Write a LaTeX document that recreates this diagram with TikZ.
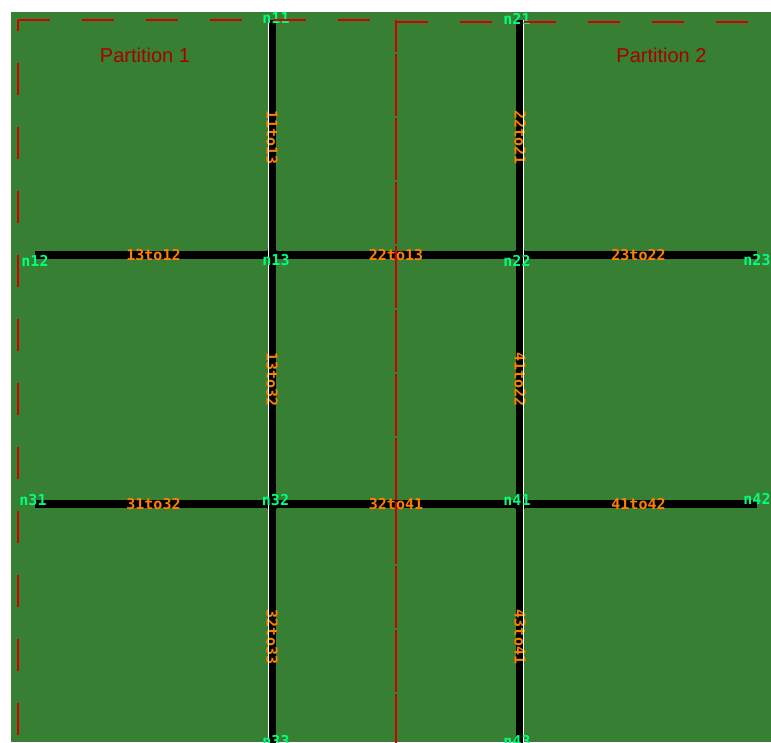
\documentclass[tikz,border=0pt]{standalone}
\usepackage{fontspec}
\setmainfont{Liberation Sans}
\newfontfamily\netfont{DejaVu Sans Mono}
\usetikzlibrary{positioning,calc}
\definecolor{netGreen}{HTML}{367F33}
\definecolor{netRed}{HTML}{D40000}
\definecolor{partText}{HTML}{A80000}
\definecolor{edgeOrange}{HTML}{FF8000}
\definecolor{nodeGreen}{HTML}{00FF80}

\begin{document}
\begin{tikzpicture}[x=1pt, y=-1pt,
  road/.style={line width=8pt, black},
  lane/.style={line width=1pt, white},
  junc/.style={circle, fill=black, minimum size=13pt, inner sep=0pt},
  nlab/.style={font=\netfont\bfseries\fontsize{15}{15}\selectfont, text=nodeGreen, inner sep=0pt},
  elab/.style={font=\netfont\bfseries\fontsize{15}{15}\selectfont, text=edgeOrange, inner sep=0pt, midway},
  part/.style={draw=netRed, line width=1.3pt, dash pattern=on 32pt off 32pt},
  ptitle/.style={font=\fontsize{20}{20}\selectfont, text=partText}]
\useasboundingbox (0,0) rectangle (771,742);
\clip (0,0) rectangle (771,742);
\fill[netGreen] (11,12) rectangle (771,742);
% junctions and dead ends
\node[junc] (n13) at (272,255) {};
\node[junc] (n22) at (520,255) {};
\node[junc] (n32) at (272,504) {};
\node[junc] (n41) at (520,504) {};
\coordinate (n11) at (272,20);
\coordinate (n21) at (520,20);
\coordinate (n12) at (35,255);
\coordinate (n23) at (757,255);
\coordinate (n31) at (35,504);
\coordinate (n42) at (757,504);
\coordinate (n33) at (272,770);
\coordinate (n43) at (520,770);
% roads
\draw[road] (n11) -- node[elab, rotate=-90] {11to13} (n13.center);
\draw[road] (n22.center) -- node[elab, rotate=-90] {22to21} (n21);
\draw[road] (n13.center) -- node[elab, rotate=-90] {13to32} (n32.center);
\draw[road] (n41.center) -- node[elab, rotate=-90] {41to22} (n22.center);
\draw[road] (n32.center) -- node[elab, rotate=-90] {32to33} (n33);
\draw[road] (n43) -- node[elab, rotate=-90] {43to41} (n41.center);
\draw[road] (n13.center) -- node[elab] {13to12} (n12);
\draw[road] (n22.center) -- node[elab] {22to13} (n13.center);
\draw[road] (n23) -- node[elab] {23to22} (n22.center);
\draw[road] (n31) -- node[elab] {31to32} (n32.center);
\draw[road] (n32.center) -- node[elab] {32to41} (n41.center);
\draw[road] (n41.center) -- node[elab] {41to42} (n42);
% lane borders
\draw[lane] ([xshift=-3.5]n11) -- ([xshift=-3.5,yshift=-10]n13.center);
\draw[lane] ([xshift=-3.5,yshift=10]n13.center) -- ([xshift=-3.5,yshift=-10]n32.center);
\draw[lane] ([xshift=-3.5,yshift=10]n32.center) -- ([xshift=-3.5]n33);
\draw[lane] ([xshift=3.5]n21) -- ([xshift=3.5,yshift=-10]n22.center);
\draw[lane] ([xshift=3.5,yshift=10]n22.center) -- ([xshift=3.5,yshift=-10]n41.center);
\draw[lane] ([xshift=3.5,yshift=10]n41.center) -- ([xshift=3.5]n43);
% node names
\node[nlab] (l11) at ($(n11)+(4,-1.5)$) {n11};
\node[nlab] (l21) at ($(n21)+(-3,-1.5)$) {n21};
\node[nlab] (l12) at ($(n12)+(0,5.5)$) {n12};
\node[nlab] (l13) at ($(n13)+(4,5.5)$) {n13};
\node[nlab] (l22) at ($(n22)+(-3,5.5)$) {n22};
\node[nlab] (l23) at ($(n23)+(0,5.5)$) {n23};
\node[nlab] (l31) at ($(n31)+(-2,-4)$) {n31};
\node[nlab] (l32) at ($(n32)+(3.5,-4)$) {n32};
\node[nlab] (l41) at ($(n41)+(-3,-4)$) {n41};
\node[nlab] (l42) at ($(n42)+(0,-5)$) {n42};
\node[nlab] (l33) at (276,741) {n33};
\node[nlab] (l43) at (517,741) {n43};
% partitions
\node[ptitle] (p1title) at (145,55) {Partition 1};
\node[ptitle] (p2title) at (661.5,55) {Partition 2};
\draw[part] (18,20) -- (396,20);
\draw[part, dash phase=21pt] (18,20) -- (18,790);
\draw[part] (396,20) -- (396,790);
\draw[part] (396,22) -- (800,22);
\draw[part, dash phase=32pt] (396,22) -- (396,790);
\end{tikzpicture}
\end{document}
